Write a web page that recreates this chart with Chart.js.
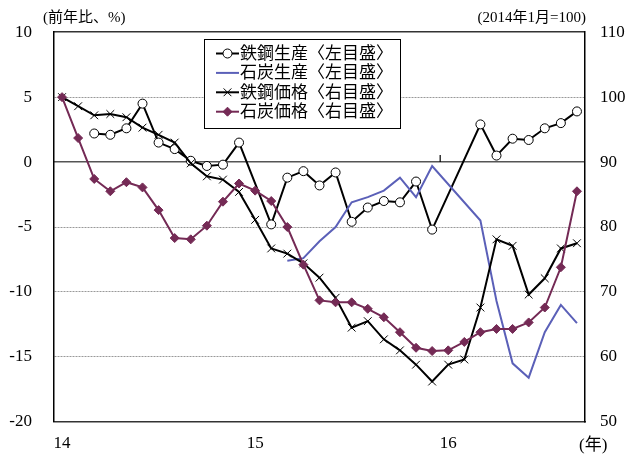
<!DOCTYPE html>
<html>
<head>
<meta charset="utf-8">
<script src="https://cdn.jsdelivr.net/npm/chart.js@4.4.1/dist/chart.umd.min.js"></script>
<style>
  body { margin: 0; background: #fff; }
  canvas { display: block; }
</style>
</head>
<body>
<canvas id="chart" width="631" height="454"></canvas>
<script>
// monthly, Jan 2014 - Sep 2016
var months = [
    '14/1', '14/2', '14/3', '14/4', '14/5', '14/6', '14/7', '14/8', '14/9', '14/10', '14/11', '14/12',
    '15/1', '15/2', '15/3', '15/4', '15/5', '15/6', '15/7', '15/8', '15/9', '15/10', '15/11', '15/12',
    '16/1', '16/2', '16/3', '16/4', '16/5', '16/6', '16/7', '16/8', '16/9'
];
var yearTicks = ['14', '15', '16'];

// left axis, yoy %
var steelProd = [null, null, 2.2, 2.1, 2.6, 4.5, 1.5, 1.0, 0.1, -0.3, -0.2, 1.5,
    null, -4.8, -1.2, -0.7, -1.8, -0.8, -4.6, -3.5, -3.0, -3.1, -1.5, -5.2,
    null, null, 2.9, 0.5, 1.8, 1.7, 2.6, 3.0, 3.9];
var coalProd = [null, null, null, null, null, null, null, null, null, null, null, null,
    null, null, -7.6, -7.4, -6.1, -5.0, -3.1, -2.7, -2.2, -1.2, -2.7, -0.3,
    null, null, -4.5, -10.7, -15.5, -16.6, -13.1, -11.0, -12.4];

// right axis, Jan 2014 = 100
var steelPrice = [100, 98.6, 97.2, 97.4, 96.9, 95.3, 94.2, 93.0, 89.8, 87.8, 87.3, 85.4,
    81.1, 76.7, 75.9, 74.4, 72.2, 69.1, 64.5, 65.5, 62.7, 61.0, 58.8, 56.2,
    58.8, 59.6, 67.6, 78.1, 77.1, 69.6, 72.1, 76.7, 77.5];
var coalPrice = [100, 93.7, 87.4, 85.5, 86.9, 86.1, 82.6, 78.3, 78.1, 80.2, 83.9, 86.7,
    85.6, 84.0, 80.0, 74.2, 68.7, 68.4, 68.4, 67.4, 66.1, 63.8, 61.4, 60.9,
    61.0, 62.3, 63.8, 64.3, 64.3, 65.3, 67.6, 73.8, 85.5];

var seriesNames = ['鉄鋼生産〈左目盛〉', '石炭生産〈左目盛〉', '鉄鋼価格〈右目盛〉', '石炭価格〈右目盛〉'];
var leftUnit = '(前年比、%)';
var rightUnit = '(2014年1月=100)';
var xUnit = '(年)';

var FONT = "'Liberation Serif', 'Noto Sans CJK JP', serif";
var BLUE = '#5b60b8';
var PLUM = '#742a55';

Chart.defaults.font.family = FONT;
Chart.defaults.font.size = 17;
Chart.defaults.color = '#000';

function drawMarker(ctx, style, x, y, r, fill, stroke) {
    ctx.save();
    ctx.lineWidth = 1;
    ctx.strokeStyle = stroke;
    ctx.fillStyle = fill;
    ctx.beginPath();
    if (style == 'circle') {
        ctx.arc(x, y, r, 0, Math.PI * 2);
        ctx.fill();
        ctx.stroke();
    } else if (style == 'crossRot') {
        var d = r * Math.SQRT1_2;
        ctx.moveTo(x - d, y - d); ctx.lineTo(x + d, y + d);
        ctx.moveTo(x + d, y - d); ctx.lineTo(x - d, y + d);
        ctx.stroke();
    } else if (style == 'rectRot') {
        ctx.moveTo(x - r, y); ctx.lineTo(x, y - r);
        ctx.lineTo(x + r, y); ctx.lineTo(x, y + r);
        ctx.closePath();
        ctx.fill();
        ctx.stroke();
    }
    ctx.restore();
}

// small tick on the zero line at the start of 2016
var yearMarks = {
    id: 'yearMarks',
    beforeDatasetsDraw: function(chart) {
        var ctx = chart.ctx;
        var xs = chart.scales.x;
        var y0 = chart.scales.y.getPixelForValue(0);
        ctx.save();
        ctx.strokeStyle = '#000';
        ctx.lineWidth = 1.2;
        [24].forEach(function(i) {
            var px = (xs.getPixelForValue(i - 1) + xs.getPixelForValue(i)) / 2;
            ctx.beginPath();
            ctx.moveTo(px, y0);
            ctx.lineTo(px, y0 - 7);
            ctx.stroke();
        });
        ctx.restore();
    }
};

var legendBox = {
    id: 'legendBox',
    afterDatasetsDraw: function(chart) {
        var ctx = chart.ctx;
        var x0 = 204, y0 = 39, w = 196, h = 89;
        ctx.save();
        ctx.fillStyle = '#fff';
        ctx.fillRect(x0, y0, w, h);
        ctx.strokeStyle = '#000';
        ctx.lineWidth = 1;
        ctx.strokeRect(x0 + 0.5, y0 + 0.5, w, h);
        ctx.font = '17px ' + FONT;
        ctx.textBaseline = 'middle';
        chart.data.datasets.forEach(function(ds, i) {
            var y = y0 + 14.5 + i * 19.4;
            ctx.strokeStyle = ds.borderColor;
            ctx.lineWidth = 2;
            ctx.beginPath();
            ctx.moveTo(x0 + 12, y);
            ctx.lineTo(x0 + 35, y);
            ctx.stroke();
            if (ds.pointRadius) {
                drawMarker(ctx, ds.pointStyle, x0 + 23.5, y, ds.pointRadius,
                    ds.pointBackgroundColor, ds.pointBorderColor);
            }
            ctx.fillStyle = '#000';
            ctx.fillText(ds.label, x0 + 36, y + 1);
        });
        ctx.restore();
    },
    afterDraw: function(chart) {
        var ctx = chart.ctx;
        var area = chart.chartArea;
        ctx.save();
        ctx.fillStyle = '#000';
        ctx.textBaseline = 'middle';
        ctx.font = '15px ' + FONT;
        ctx.textAlign = 'left';
        ctx.fillText(leftUnit, area.left - 11, 18);
        ctx.textAlign = 'right';
        ctx.fillText(rightUnit, area.right + 1, 18);
        ctx.font = '17px ' + FONT;
        ctx.textAlign = 'left';
        ctx.fillText(xUnit, 579, 446);
        ctx.restore();
    }
};

new Chart(document.getElementById('chart'), {
    type: 'line',
    data: {
        labels: months,
        datasets: [{
            label: seriesNames[0],
            data: steelProd,
            yAxisID: 'y',
            borderColor: '#000',
            borderWidth: 2,
            pointStyle: 'circle',
            pointRadius: 4.5,
            pointBorderWidth: 1,
            pointBackgroundColor: '#fff',
            pointBorderColor: '#000',
            spanGaps: true,
            order: 3
        }, {
            label: seriesNames[1],
            data: coalProd,
            yAxisID: 'y',
            borderColor: BLUE,
            borderWidth: 2,
            pointRadius: 0,
            spanGaps: true,
            order: 2
        }, {
            label: seriesNames[2],
            data: steelPrice,
            yAxisID: 'y1',
            borderColor: '#000',
            borderWidth: 2,
            pointStyle: 'crossRot',
            pointRadius: 5.5,
            pointBorderWidth: 1,
            pointBackgroundColor: '#000',
            pointBorderColor: '#000',
            order: 1
        }, {
            label: seriesNames[3],
            data: coalPrice,
            yAxisID: 'y1',
            borderColor: PLUM,
            borderWidth: 2,
            pointStyle: 'rectRot',
            pointRadius: 4.5,
            pointBorderWidth: 1,
            pointBackgroundColor: PLUM,
            pointBorderColor: PLUM,
            order: 0
        }]
    },
    options: {
        responsive: false,
        animation: false,
        layout: { padding: { top: 29, left: 0, right: 0, bottom: 0 } },
        plugins: {
            legend: { display: false },
            tooltip: { enabled: false }
        },
        scales: {
            x: {
                offset: true,
                grid: { display: false, drawTicks: false },
                border: { color: '#333', width: 1.5 },
                ticks: {
                    autoSkip: false,
                    maxRotation: 0,
                    padding: 12,
                    callback: function(v, i) {
                        return i % 12 === 0 ? yearTicks[i / 12] : '';
                    }
                },
                afterFit: function(s) { s.height = 30; }
            },
            y: {
                position: 'left',
                min: -20,
                max: 10,
                ticks: { stepSize: 5, padding: 22, crossAlign: 'near' },
                grid: {
                    drawTicks: false,
                    lineWidth: 1,
                    color: function(c) {
                        var v = c.tick.value;
                        return (v === 10 || v === 0 || v === -20) ? 'rgba(0,0,0,0)' : '#999';
                    }
                },
                border: { color: '#000', width: 1.5, dash: [2, 1] },
                afterFit: function(s) { s.width = 54; }
            },
            y1: {
                position: 'right',
                min: 50,
                max: 110,
                ticks: { stepSize: 10, padding: 15 },
                grid: {
                    drawTicks: false,
                    lineWidth: 1.5,
                    color: function(c) {
                        var v = c.tick.value;
                        if (v === 90) return '#555';
                        if (v === 110) return '#333';
                        return 'rgba(0,0,0,0)';
                    }
                },
                border: { color: '#000', width: 1.5 },
                afterFit: function(s) { s.width = 46; }
            }
        }
    },
    plugins: [yearMarks, legendBox]
});
</script>
</body>
</html>
